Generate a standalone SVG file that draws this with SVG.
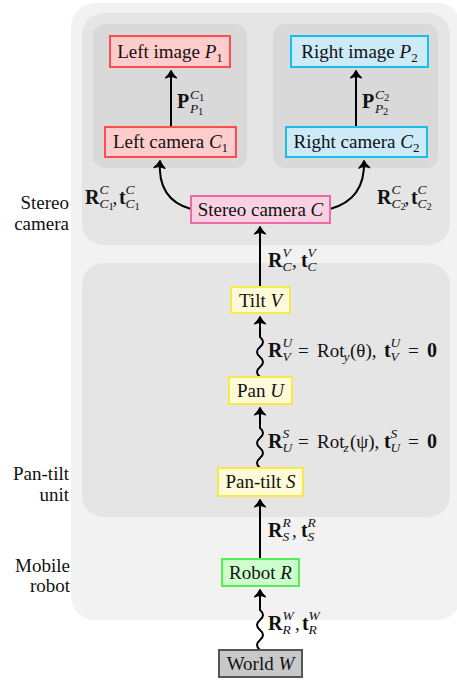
<svg xmlns="http://www.w3.org/2000/svg" width="457" height="682" viewBox="0 0 457 682">
<style>
text { font-family: "Liberation Serif", "Times New Roman", serif; font-size: 19px; fill: #111; }
.n { text-anchor: middle; }
.s { text-anchor: end; }
.b { font-weight: bold; font-size: 20px; }
.i { font-style: italic; }
.sc { font-size: 13.5px; font-style: italic; }
.ss { font-size: 10.5px; }
.sn { font-size: 13px; }
.node { stroke-width: 2; }
.red { fill: #ffcccc; stroke: #ff4d4d; }
.blue { fill: #cceaf8; stroke: #18bdec; }
.pink { fill: #f8d1e3; stroke: #ec6aa6; }
.yellow { fill: #fffbd8; stroke: #f6ea4a; }
.green { fill: #ccffcc; stroke: #55ee55; }
.gray { fill: #c8c8c8; stroke: #555555; }
.conn { fill: none; stroke: #000; stroke-width: 2; marker-end: url(#ah); }
</style>
<defs>
<marker id="ah" viewBox="-10 -8 12 16" refX="0" refY="0" markerWidth="12" markerHeight="16" markerUnits="userSpaceOnUse" orient="auto">
<path d="M0.5,0 Q-3,-1.5 -7,-5.5 Q-4.5,0 -7,5.5 Q-3,1.5 0.5,0 Z" fill="#000" stroke="#000" stroke-width="1.2" stroke-linejoin="round"/>
</marker>
</defs>
<rect width="457" height="682" fill="#ffffff"/>
<g id="panels">
<rect x="71" y="3" width="390" height="617" rx="24" fill="#f2f2f2"/>
<rect x="82" y="13" width="368" height="232" rx="22" fill="#e5e5e5"/>
<rect x="93" y="24" width="154" height="144" rx="12" fill="#d9d9d9"/>
<rect x="273" y="24" width="165" height="144" rx="12" fill="#d9d9d9"/>
<rect x="82" y="263" width="368" height="254" rx="22" fill="#e5e5e5"/>
</g>
<g id="group-labels">
<text class="s" x="69" y="209">Stereo</text>
<text class="s" x="69" y="230">camera</text>
<text class="s" x="69" y="480">Pan-tilt</text>
<text class="s" x="69" y="501">unit</text>
<text class="s" x="70" y="572">Mobile</text>
<text class="s" x="70" y="592">robot</text>
</g>
<g id="connectors">
<path class="conn" d="M171,127 L171,71"/>
<path class="conn" d="M356,127 L356,71"/>
<path class="conn" d="M191,209 C169,203 158,188 160,161"/>
<path class="conn" d="M330,209 C352,203 365,188 364,161"/>
<path class="conn" d="M260,287 L260,227"/>
<path class="conn" d="M260,377 q-6,-5 0,-10 t0,-10 t0,-10 t0,-10 L260,317"/>
<path class="conn" d="M260,468 q-6,-5 0,-10 t0,-10 t0,-10 t0,-10 L260,408"/>
<path class="conn" d="M260,559 L260,500"/>
<path class="conn" d="M260,650 q-6,-5 0,-10 t0,-10 t0,-10 t0,-10 L260,590"/>
</g>
<g id="left-image">
<rect class="node red" x="110" y="36" width="120" height="31"/>
<text class="n" x="170" y="57.5">Left image <tspan class="i">P</tspan><tspan class="sn" dy="4">1</tspan></text>
</g>
<g id="left-camera">
<rect class="node red" x="105" y="127" width="131" height="30"/>
<text class="n" x="170.5" y="148">Left camera <tspan class="i">C</tspan><tspan class="sn" dy="4">1</tspan></text>
</g>
<g id="right-image">
<rect class="node blue" x="291" y="36" width="137" height="31"/>
<text class="n" x="359.5" y="57.5">Right image <tspan class="i">P</tspan><tspan class="sn" dy="4">2</tspan></text>
</g>
<g id="right-camera">
<rect class="node blue" x="286" y="127" width="141" height="30"/>
<text class="n" x="356.5" y="148">Right camera <tspan class="i">C</tspan><tspan class="sn" dy="4">2</tspan></text>
</g>
<g id="stereo-camera">
<rect class="node pink" x="191" y="196" width="139" height="27"/>
<text class="n" x="260.5" y="216">Stereo camera <tspan class="i">C</tspan></text>
</g>
<g id="tilt">
<rect class="node yellow" x="231" y="287" width="59" height="26"/>
<text class="n" x="260.5" y="306.5">Tilt <tspan class="i">V</tspan></text>
</g>
<g id="pan">
<rect class="node yellow" x="229" y="377" width="63" height="27"/>
<text class="n" x="260.5" y="397">Pan <tspan class="i">U</tspan></text>
</g>
<g id="pan-tilt">
<rect class="node yellow" x="218" y="468" width="85" height="28"/>
<text class="n" x="260.5" y="488">Pan-tilt <tspan class="i">S</tspan></text>
</g>
<g id="robot">
<rect class="node green" x="222" y="559" width="77" height="27"/>
<text class="n" x="260.5" y="578.5">Robot <tspan class="i">R</tspan></text>
</g>
<g id="world">
<rect class="node gray" x="219" y="650" width="83" height="27"/>
<text class="n" x="260.5" y="669.5">World <tspan class="i">W</tspan></text>
</g>
<g id="edge-labels">
<text><tspan class="b" x="177" y="108">P</tspan><tspan class="sc" x="190" y="98.5">C</tspan><tspan class="ss" x="199" y="100.5">1</tspan><tspan class="sc" x="190" y="113">P</tspan><tspan class="ss" x="198" y="115">1</tspan></text>
<text><tspan class="b" x="362" y="108">P</tspan><tspan class="sc" x="375" y="98.5">C</tspan><tspan class="ss" x="384" y="100.5">2</tspan><tspan class="sc" x="375" y="113">P</tspan><tspan class="ss" x="383" y="115">2</tspan></text>
<text><tspan class="b" x="85" y="204">R</tspan><tspan class="sc" x="99.5" y="194">C</tspan><tspan class="sc" x="99.5" y="208">C</tspan><tspan class="ss" x="108.5" y="210">1</tspan><tspan x="112.5" y="204">,</tspan><tspan class="b" x="119" y="204">t</tspan><tspan class="sc" x="125.5" y="194">C</tspan><tspan class="sc" x="125.5" y="208">C</tspan><tspan class="ss" x="134.5" y="210">1</tspan></text>
<text><tspan class="b" x="377" y="204">R</tspan><tspan class="sc" x="391.5" y="194">C</tspan><tspan class="sc" x="391.5" y="208">C</tspan><tspan class="ss" x="400.5" y="210">2</tspan><tspan x="404.5" y="204">,</tspan><tspan class="b" x="411" y="204">t</tspan><tspan class="sc" x="417.5" y="194">C</tspan><tspan class="sc" x="417.5" y="208">C</tspan><tspan class="ss" x="426.5" y="210">2</tspan></text>
<text><tspan class="b" x="268" y="267">R</tspan><tspan class="sc" x="282.5" y="257">V</tspan><tspan class="sc" x="282.5" y="271">C</tspan><tspan x="292" y="267">,</tspan><tspan class="b" x="301" y="267">t</tspan><tspan class="sc" x="307.5" y="257">V</tspan><tspan class="sc" x="307.5" y="271">C</tspan></text>
<text><tspan class="b" x="268" y="357">R</tspan><tspan class="sc" x="282.5" y="347">U</tspan><tspan class="sc" x="282.5" y="361">V</tspan><tspan x="298" y="357">=</tspan><tspan x="317" y="357">Rot</tspan><tspan class="sc" x="343.5" y="361">y</tspan><tspan x="350" y="357">(θ),</tspan><tspan class="b" x="384" y="357">t</tspan><tspan class="sc" x="390.5" y="347">U</tspan><tspan class="sc" x="390.5" y="361">V</tspan><tspan x="408" y="357">=</tspan><tspan class="b" x="427" y="357">0</tspan></text>
<text><tspan class="b" x="268" y="448">R</tspan><tspan class="sc" x="282.5" y="438">S</tspan><tspan class="sc" x="282.5" y="452">U</tspan><tspan x="298" y="448">=</tspan><tspan x="317" y="448">Rot</tspan><tspan class="sc" x="343.5" y="452">z</tspan><tspan x="350" y="448">(ψ),</tspan><tspan class="b" x="384" y="448">t</tspan><tspan class="sc" x="390.5" y="438">S</tspan><tspan class="sc" x="390.5" y="452">U</tspan><tspan x="408" y="448">=</tspan><tspan class="b" x="427" y="448">0</tspan></text>
<text><tspan class="b" x="268" y="537">R</tspan><tspan class="sc" x="282.5" y="527">R</tspan><tspan class="sc" x="282.5" y="541">S</tspan><tspan x="292" y="537">,</tspan><tspan class="b" x="301" y="537">t</tspan><tspan class="sc" x="307.5" y="527">R</tspan><tspan class="sc" x="307.5" y="541">S</tspan></text>
<text><tspan class="b" x="268" y="630">R</tspan><tspan class="sc" x="282.5" y="620">W</tspan><tspan class="sc" x="282.5" y="634">R</tspan><tspan x="295" y="630">,</tspan><tspan class="b" x="302" y="630">t</tspan><tspan class="sc" x="308.5" y="620">W</tspan><tspan class="sc" x="308.5" y="634">R</tspan></text>
</g>
</svg>
